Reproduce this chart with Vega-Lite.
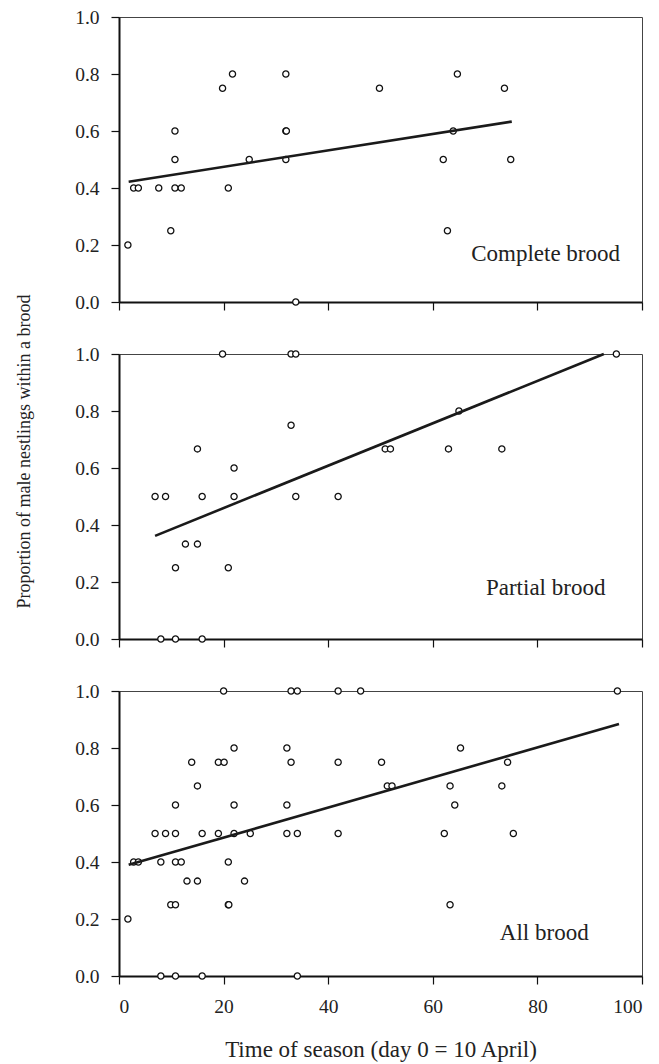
{
  "$schema": "https://vega.github.io/schema/vega-lite/v6.json",
  "background": "white",
  "padding": {"left": 15, "top": 6, "right": 10, "bottom": 5},
  "spacing": 52,
  "bounds": "flush",
  "config": {
    "font": "Liberation Serif",
    "view": {"stroke": "#444444", "strokeWidth": 1},
    "axis": {
      "grid": false,
      "domainColor": "#111111",
      "domainWidth": 2,
      "tickColor": "#111111",
      "tickWidth": 1.2,
      "tickSize": 8,
      "labelFont": "Liberation Serif",
      "labelFontSize": 19.5,
      "labelColor": "#222222",
      "titleFont": "Liberation Serif",
      "titleFontWeight": "normal",
      "titleColor": "#222222"
    }
  },
  "datasets": {
    "pts": [
      {"panel": "C", "day": 1.7, "prop": 0.2},
      {"panel": "C", "day": 2.8, "prop": 0.4},
      {"panel": "C", "day": 3.7, "prop": 0.4},
      {"panel": "C", "day": 7.6, "prop": 0.4},
      {"panel": "C", "day": 9.9, "prop": 0.25},
      {"panel": "C", "day": 10.7, "prop": 0.4},
      {"panel": "C", "day": 10.7, "prop": 0.5},
      {"panel": "C", "day": 10.7, "prop": 0.6},
      {"panel": "C", "day": 11.9, "prop": 0.4},
      {"panel": "C", "day": 19.8, "prop": 0.75},
      {"panel": "C", "day": 20.9, "prop": 0.4},
      {"panel": "C", "day": 21.7, "prop": 0.8},
      {"panel": "C", "day": 24.9, "prop": 0.5},
      {"panel": "C", "day": 31.9, "prop": 0.8},
      {"panel": "C", "day": 31.9, "prop": 0.6},
      {"panel": "C", "day": 32.0, "prop": 0.6},
      {"panel": "C", "day": 31.9, "prop": 0.5},
      {"panel": "C", "day": 33.8, "prop": 0.0},
      {"panel": "C", "day": 49.8, "prop": 0.75},
      {"panel": "C", "day": 62.0, "prop": 0.5},
      {"panel": "C", "day": 62.8, "prop": 0.25},
      {"panel": "C", "day": 63.9, "prop": 0.6},
      {"panel": "C", "day": 64.7, "prop": 0.8},
      {"panel": "C", "day": 73.7, "prop": 0.75},
      {"panel": "C", "day": 74.9, "prop": 0.5},

      {"panel": "P", "day": 6.9, "prop": 0.5},
      {"panel": "P", "day": 8.0, "prop": 0.0},
      {"panel": "P", "day": 8.9, "prop": 0.5},
      {"panel": "P", "day": 10.8, "prop": 0.25},
      {"panel": "P", "day": 10.8, "prop": 0.0},
      {"panel": "P", "day": 12.7, "prop": 0.333},
      {"panel": "P", "day": 15.0, "prop": 0.667},
      {"panel": "P", "day": 15.0, "prop": 0.333},
      {"panel": "P", "day": 15.9, "prop": 0.5},
      {"panel": "P", "day": 15.9, "prop": 0.0},
      {"panel": "P", "day": 19.8, "prop": 1.0},
      {"panel": "P", "day": 20.9, "prop": 0.25},
      {"panel": "P", "day": 22.0, "prop": 0.6},
      {"panel": "P", "day": 22.0, "prop": 0.5},
      {"panel": "P", "day": 32.9, "prop": 1.0},
      {"panel": "P", "day": 32.9, "prop": 0.75},
      {"panel": "P", "day": 33.8, "prop": 1.0},
      {"panel": "P", "day": 33.8, "prop": 0.5},
      {"panel": "P", "day": 41.9, "prop": 0.5},
      {"panel": "P", "day": 50.9, "prop": 0.667},
      {"panel": "P", "day": 51.9, "prop": 0.667},
      {"panel": "P", "day": 63.0, "prop": 0.667},
      {"panel": "P", "day": 65.0, "prop": 0.8},
      {"panel": "P", "day": 73.2, "prop": 0.667},
      {"panel": "P", "day": 95.1, "prop": 1.0},

      {"panel": "A", "day": 20.0, "prop": 1.0},
      {"panel": "A", "day": 32.9, "prop": 1.0},
      {"panel": "A", "day": 34.1, "prop": 1.0},
      {"panel": "A", "day": 41.9, "prop": 1.0},
      {"panel": "A", "day": 46.2, "prop": 1.0},
      {"panel": "A", "day": 95.3, "prop": 1.0},
      {"panel": "A", "day": 22.0, "prop": 0.8},
      {"panel": "A", "day": 32.1, "prop": 0.8},
      {"panel": "A", "day": 65.3, "prop": 0.8},
      {"panel": "A", "day": 13.9, "prop": 0.75},
      {"panel": "A", "day": 19.0, "prop": 0.75},
      {"panel": "A", "day": 20.1, "prop": 0.75},
      {"panel": "A", "day": 32.9, "prop": 0.75},
      {"panel": "A", "day": 41.9, "prop": 0.75},
      {"panel": "A", "day": 50.2, "prop": 0.75},
      {"panel": "A", "day": 74.3, "prop": 0.75},
      {"panel": "A", "day": 15.0, "prop": 0.667},
      {"panel": "A", "day": 51.3, "prop": 0.667},
      {"panel": "A", "day": 52.2, "prop": 0.667},
      {"panel": "A", "day": 63.3, "prop": 0.667},
      {"panel": "A", "day": 73.2, "prop": 0.667},
      {"panel": "A", "day": 10.8, "prop": 0.6},
      {"panel": "A", "day": 22.0, "prop": 0.6},
      {"panel": "A", "day": 32.1, "prop": 0.6},
      {"panel": "A", "day": 64.2, "prop": 0.6},
      {"panel": "A", "day": 6.9, "prop": 0.5},
      {"panel": "A", "day": 8.9, "prop": 0.5},
      {"panel": "A", "day": 10.8, "prop": 0.5},
      {"panel": "A", "day": 15.9, "prop": 0.5},
      {"panel": "A", "day": 19.0, "prop": 0.5},
      {"panel": "A", "day": 22.0, "prop": 0.5},
      {"panel": "A", "day": 25.1, "prop": 0.5},
      {"panel": "A", "day": 32.1, "prop": 0.5},
      {"panel": "A", "day": 34.1, "prop": 0.5},
      {"panel": "A", "day": 41.9, "prop": 0.5},
      {"panel": "A", "day": 62.2, "prop": 0.5},
      {"panel": "A", "day": 75.4, "prop": 0.5},
      {"panel": "A", "day": 2.8, "prop": 0.4},
      {"panel": "A", "day": 3.7, "prop": 0.4},
      {"panel": "A", "day": 8.0, "prop": 0.4},
      {"panel": "A", "day": 10.8, "prop": 0.4},
      {"panel": "A", "day": 11.9, "prop": 0.4},
      {"panel": "A", "day": 20.9, "prop": 0.4},
      {"panel": "A", "day": 13.0, "prop": 0.333},
      {"panel": "A", "day": 15.0, "prop": 0.333},
      {"panel": "A", "day": 24.0, "prop": 0.333},
      {"panel": "A", "day": 9.9, "prop": 0.25},
      {"panel": "A", "day": 10.8, "prop": 0.25},
      {"panel": "A", "day": 20.9, "prop": 0.25},
      {"panel": "A", "day": 21.0, "prop": 0.25},
      {"panel": "A", "day": 63.3, "prop": 0.25},
      {"panel": "A", "day": 1.7, "prop": 0.2},
      {"panel": "A", "day": 8.0, "prop": 0.0},
      {"panel": "A", "day": 10.8, "prop": 0.0},
      {"panel": "A", "day": 15.9, "prop": 0.0},
      {"panel": "A", "day": 34.1, "prop": 0.0}
    ],
    "fit": [
      {"panel": "C", "day": 1.85, "prop": 0.422},
      {"panel": "C", "day": 75.1, "prop": 0.633},
      {"panel": "P", "day": 6.9, "prop": 0.362},
      {"panel": "P", "day": 92.7, "prop": 1.0},
      {"panel": "A", "day": 1.85, "prop": 0.39},
      {"panel": "A", "day": 95.6, "prop": 0.884}
    ],
    "lab": [
      {"panel": "C", "day": 95.8, "prop": 0.144, "text": "Complete brood"},
      {"panel": "P", "day": 93.0, "prop": 0.154, "text": "Partial brood"},
      {"panel": "A", "day": 89.8, "prop": 0.126, "text": "All brood"}
    ]
  },
  "vconcat": [
    {
      "width": 523, "height": 285,
      "layer": [
        {
          "data": {"name": "pts"},
          "transform": [{"filter": "datum.panel === 'C'"}],
          "mark": {"type": "circle", "size": 38, "fill": "white", "stroke": "#111111", "strokeWidth": 1.3, "opacity": 1},
          "encoding": {
            "x": {"field": "day", "type": "quantitative", "scale": {"domain": [0, 100]}, "axis": {"values": [0, 20, 40, 60, 80, 100], "labels": false, "title": null}},
            "y": {"field": "prop", "type": "quantitative", "scale": {"domain": [0, 1]}, "axis": {"values": [0, 0.2, 0.4, 0.6, 0.8, 1.0], "format": ".1f", "labelPadding": 12, "title": null}}
          }
        },
        {
          "data": {"name": "fit"},
          "transform": [{"filter": "datum.panel === 'C'"}],
          "mark": {"type": "line", "color": "#1a1a1a", "strokeWidth": 2.6},
          "encoding": {
            "x": {"field": "day", "type": "quantitative"},
            "y": {"field": "prop", "type": "quantitative"}
          }
        },
        {
          "data": {"name": "lab"},
          "transform": [{"filter": "datum.panel === 'C'"}],
          "mark": {"type": "text", "align": "right", "baseline": "alphabetic", "fontSize": 23, "font": "Liberation Serif", "color": "#222222"},
          "encoding": {
            "x": {"field": "day", "type": "quantitative"},
            "y": {"field": "prop", "type": "quantitative"},
            "text": {"field": "text"}
          }
        }
      ]
    },
    {
      "width": 523, "height": 285,
      "layer": [
        {
          "data": {"name": "pts"},
          "transform": [{"filter": "datum.panel === 'P'"}],
          "mark": {"type": "circle", "size": 38, "fill": "white", "stroke": "#111111", "strokeWidth": 1.3, "opacity": 1},
          "encoding": {
            "x": {"field": "day", "type": "quantitative", "scale": {"domain": [0, 100]}, "axis": {"values": [0, 20, 40, 60, 80, 100], "labels": false, "title": null}},
            "y": {"field": "prop", "type": "quantitative", "scale": {"domain": [0, 1]}, "axis": {"values": [0, 0.2, 0.4, 0.6, 0.8, 1.0], "format": ".1f", "labelPadding": 12, "title": "Proportion of male nestlings within a brood", "titleFontSize": 18, "titlePadding": 41, "titleY": 97}}
          }
        },
        {
          "data": {"name": "fit"},
          "transform": [{"filter": "datum.panel === 'P'"}],
          "mark": {"type": "line", "color": "#1a1a1a", "strokeWidth": 2.6},
          "encoding": {
            "x": {"field": "day", "type": "quantitative"},
            "y": {"field": "prop", "type": "quantitative"}
          }
        },
        {
          "data": {"name": "lab"},
          "transform": [{"filter": "datum.panel === 'P'"}],
          "mark": {"type": "text", "align": "right", "baseline": "alphabetic", "fontSize": 23, "font": "Liberation Serif", "color": "#222222"},
          "encoding": {
            "x": {"field": "day", "type": "quantitative"},
            "y": {"field": "prop", "type": "quantitative"},
            "text": {"field": "text"}
          }
        }
      ]
    },
    {
      "width": 523, "height": 285,
      "layer": [
        {
          "data": {"name": "pts"},
          "transform": [{"filter": "datum.panel === 'A'"}],
          "mark": {"type": "circle", "size": 38, "fill": "white", "stroke": "#111111", "strokeWidth": 1.3, "opacity": 1},
          "encoding": {
            "x": {"field": "day", "type": "quantitative", "scale": {"domain": [0, 100]}, "axis": {"values": [0, 20, 40, 60, 80, 100], "labelPadding": 13, "title": "Time of season (day 0 = 10 April)", "titleFontSize": 23, "titlePadding": 23}},
            "y": {"field": "prop", "type": "quantitative", "scale": {"domain": [0, 1]}, "axis": {"values": [0, 0.2, 0.4, 0.6, 0.8, 1.0], "format": ".1f", "labelPadding": 12, "title": null}}
          }
        },
        {
          "data": {"name": "fit"},
          "transform": [{"filter": "datum.panel === 'A'"}],
          "mark": {"type": "line", "color": "#1a1a1a", "strokeWidth": 2.6},
          "encoding": {
            "x": {"field": "day", "type": "quantitative"},
            "y": {"field": "prop", "type": "quantitative"}
          }
        },
        {
          "data": {"name": "lab"},
          "transform": [{"filter": "datum.panel === 'A'"}],
          "mark": {"type": "text", "align": "right", "baseline": "alphabetic", "fontSize": 23, "font": "Liberation Serif", "color": "#222222"},
          "encoding": {
            "x": {"field": "day", "type": "quantitative"},
            "y": {"field": "prop", "type": "quantitative"},
            "text": {"field": "text"}
          }
        }
      ]
    }
  ]
}
